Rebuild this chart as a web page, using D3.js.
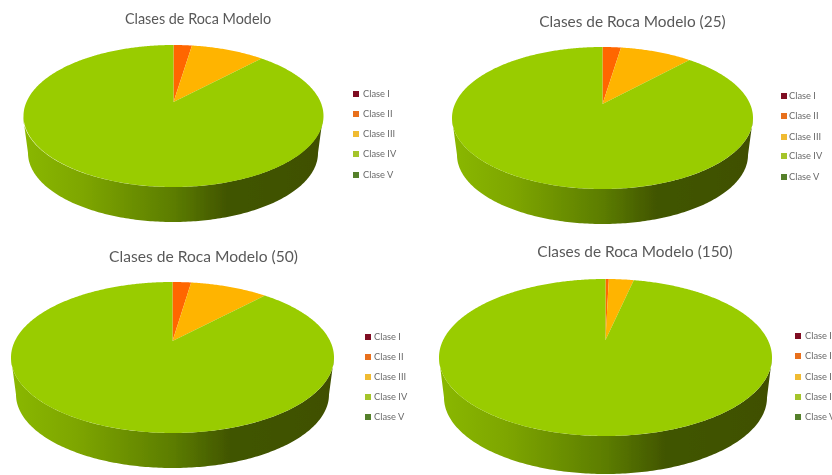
<!DOCTYPE html>
<html><head><meta charset="utf-8">
<script src="https://cdn.jsdelivr.net/npm/d3@7/dist/d3.min.js"></script>
<style>html,body{margin:0;padding:0;background:#fff;overflow:hidden}svg{display:block}</style>
</head><body><svg id="c" width="832" height="475"></svg>
<script>
const categories = ["Clase I","Clase II","Clase III","Clase IV","Clase V"];
const sliceColors = ["#7f0a1f","#ff6600","#ffb400","#99cc00","#4f7f1f"];
const legendColors = ["#7f0f22","#e8701a","#f0bb30","#a5c42a","#55802a"];
const titles = ["Clases de Roca Modelo","Clases de Roca Modelo (25)","Clases de Roca Modelo (50)","Clases de Roca Modelo (150)"];
const valuesModelo = [0,2.4,9.6,88,0];
const values25 = [0,2.4,9.4,88.2,0];
const values50 = [0,2.3,9.6,88.1,0];
const values150 = [0,0.4,3.0,96.6,0];
const allValues = [valuesModelo,values25,values50,values150];
// layout: ellipse extents, rim depth, apex, title and legend anchors
const layouts = [
 {x0:23,x1:323,y0:45,y1:187,ax:173.5,ay:102,bot:222,inset:5,tx:198,ty:24,ts:14.4,lx:353,ly:[94,114,134,154,175],ltx:363},
 {x0:452,x1:753,y0:47,y1:189,ax:602.5,ay:104,bot:224,inset:5,tx:632.5,ty:27,ts:15.4,lx:781,ly:[96,116,137,156,177],ltx:789},
 {x0:11,x1:334,y0:282,y1:433,ax:172.5,ay:341,bot:468,inset:5,tx:203.5,ty:262,ts:15.6,lx:365,ly:[337,357,377,397,417],ltx:374},
 {x0:439,x1:772,y0:279,y1:436,ax:605.5,ay:340,bot:474,inset:5,tx:635,ty:257,ts:15.4,lx:795,ly:[336,356,377,397,417],ltx:805}
];
const svg = d3.select("#c");
const defs = svg.append("defs");
const grad = defs.append("linearGradient").attr("id","rim");
[[0,"#8ab800"],[0.2,"#7ea600"],[0.5,"#5c7d00"],[0.68,"#415500"],[1,"#3f5000"]].forEach(s=>
  grad.append("stop").attr("offset",s[0]).attr("stop-color",s[1]));
defs.append("filter").attr("id","soft").append("feGaussianBlur").attr("stdDeviation",0.45);
const pie = d3.pie().sort(null).startAngle(0).endAngle(2*Math.PI);
const line = d3.line();

layouts.forEach((L,i)=>{
  const g = svg.append("g").attr("filter","url(#soft)");
  const cx=(L.x0+L.x1)/2, cy=(L.y0+L.y1)/2, rx=(L.x1-L.x0)/2, ry=(L.y1-L.y0)/2;
  const k=(cy-L.ay)/ry, a=rx*Math.sqrt(1-k*k);
  const proj=t=>{const u=Math.sin(t),v=-Math.cos(t),w=1-k*v;
    return [L.ax+a*u/w, cy+ry*(v-k)/w];};
  // rim
  const rb=rx-L.inset, rby=ry-2, bcy=L.bot-rby;
  const top=d3.range(0,181).map(d=>{const t=d*Math.PI/180;return [cx+rx*Math.cos(t),cy+ry*Math.sin(t)];});
  const bottom=d3.range(180,-1,-1).map(d=>{const t=d*Math.PI/180;return [cx+rb*Math.cos(t),bcy+rby*Math.sin(t)];});
  g.append("path").attr("d",line(top.concat(bottom))+"Z").attr("fill","url(#rim)");
  // slices
  pie(allValues[i]).forEach((s,j)=>{
    if(s.value<=0) return;
    const n=Math.max(2,Math.ceil((s.endAngle-s.startAngle)*90));
    const pts=d3.range(n+1).map(m=>proj(s.startAngle+(s.endAngle-s.startAngle)*m/n));
    g.append("path").attr("d",line([[L.ax,L.ay],...pts])+"Z").attr("fill",sliceColors[j]);
  });
  // title
  g.append("text").attr("x",L.tx).attr("y",L.ty).attr("text-anchor","middle")
    .attr("font-family","Lato, 'Open Sans', sans-serif").attr("font-size",L.ts).attr("fill","#595959").text(titles[i]);
  // legend
  categories.forEach((c,j)=>{
    g.append("rect").attr("x",L.lx).attr("y",L.ly[j]-3).attr("width",6).attr("height",6).attr("fill",legendColors[j]);
    g.append("text").attr("x",L.ltx).attr("y",L.ly[j]+3).attr("font-family","Lato, 'Open Sans', sans-serif")
      .attr("font-size",9.3).attr("fill","#6a6a6a").text(c);
  });
});
</script></body></html>
